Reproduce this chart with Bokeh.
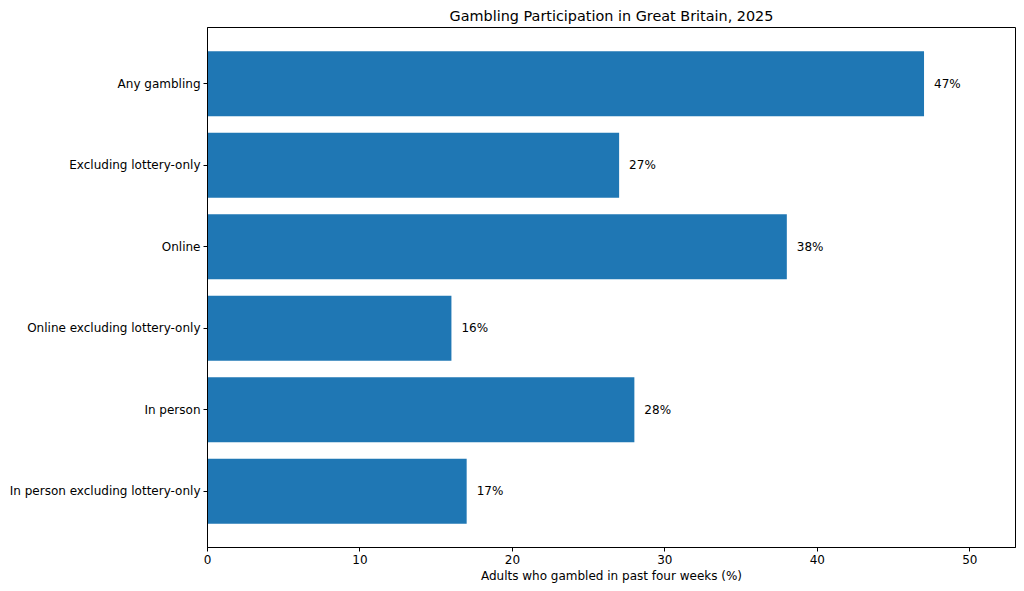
from bokeh.plotting import figure
from bokeh.models import FactorRange, Range1d, ColumnDataSource, FixedTicker, Title
from bokeh.core.properties import value
from bokeh.embed import file_html
from bokeh.resources import INLINE

categories = ["Any gambling", "Excluding lottery-only", "Online",
              "Online excluding lottery-only", "In person",
              "In person excluding lottery-only"]
values = [47, 27, 38, 16, 28, 17]
labels = [f"{v}%" for v in values]
x_ticks = [0, 10, 20, 30, 40, 50]

FONT = "DejaVu Sans"
FS = "12px"

src = ColumnDataSource(dict(cat=categories, val=values, lab=labels))

p = figure(width=1024, height=591, output_backend="svg", toolbar_location=None,
           y_range=FactorRange(factors=list(reversed(categories)),
                               range_padding=0.19, range_padding_units="absolute"),
           x_range=Range1d(0, 53),
           min_border_left=207, min_border_right=9, min_border_top=27,
           min_border_bottom=44)
p.title = Title(text="Gambling Participation in Great Britain, 2025", align="center",
                text_font=FONT, text_font_size="14.4px", text_font_style="normal",
                text_color="black", offset=0, standoff=7)

p.hbar(y="cat", right="val", left=0, height=0.8, source=src,
       fill_color="#1f77b4", line_color=None)
p.text(x="val", y="cat", text="lab", source=src, x_offset=10,
       text_font=value(FONT), text_font_size=FS, text_baseline="middle",
       text_align="left", text_color="black")

p.grid.visible = False
p.outline_line_color = "black"
p.outline_line_alpha = 1
p.outline_line_width = 1
p.background_fill_color = "white"
p.border_fill_color = "white"

p.xaxis.ticker = FixedTicker(ticks=x_ticks)
p.xaxis.axis_label = "Adults who gambled in past four weeks (%)"
for ax in (p.xaxis[0], p.yaxis[0]):
    ax.axis_line_color = "black"
    ax.major_tick_line_color = "black"
    ax.minor_tick_line_color = None
    ax.major_tick_out = 4
    ax.major_tick_in = 0
    ax.major_label_text_font = FONT
    ax.major_label_text_font_size = FS
    ax.major_label_text_color = "black"
    ax.major_label_standoff = 3
p.xaxis.axis_label_text_font = FONT
p.xaxis.axis_label_text_font_size = FS
p.xaxis.axis_label_text_font_style = "normal"
p.xaxis.axis_label_text_color = "black"
p.xaxis.axis_label_standoff = 2

open("out.html", "w").write(file_html(p, INLINE))
